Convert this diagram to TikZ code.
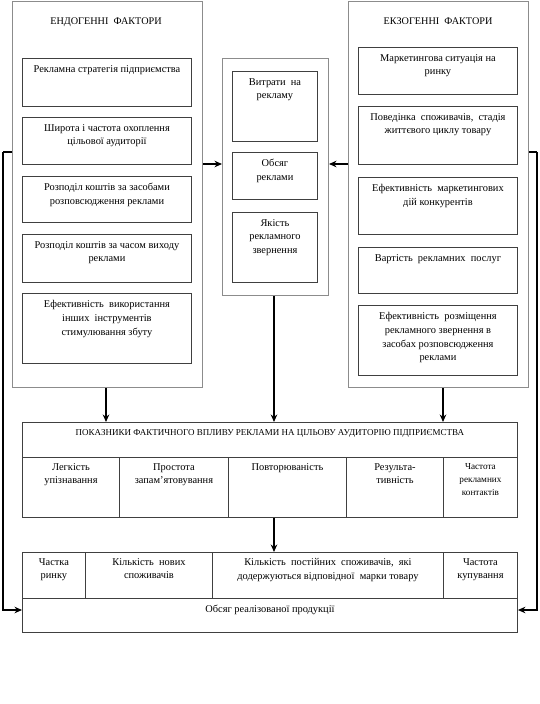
\documentclass[tikz,border=0pt]{standalone}
\usepackage{fontspec}
\setmainfont{Liberation Serif}
\usetikzlibrary{arrows.meta}
\begin{document}
\begin{tikzpicture}[x=1pt,y=-1pt,
  panel/.style={draw=black!45,line width=1pt,anchor=north west,inner sep=0pt},
  box/.style={draw=black!75,line width=0.9pt,anchor=north west,inner sep=0pt},
  cell/.style={draw=black!75,line width=0.9pt,anchor=north west,inner sep=0pt},
  txt/.style={anchor=north,align=center,font=\fontsize{10.4}{13.8}\selectfont,inner sep=0pt},
  ttl/.style={anchor=north,align=center,font=\fontsize{10.2}{12}\selectfont,inner sep=0pt},
  arr/.style={draw=black,line width=1.3pt,-{Stealth[length=7.5pt,width=6.5pt]}},
  ln/.style={draw=black,line width=1.3pt}]
\useasboundingbox (0,0) rectangle (539,704);
% left panel
\node[panel,minimum width=190,minimum height=386] (L) at (12,1) {};
\node[ttl] (Lt) at (106,18) {ЕНДОГЕННІ\ \ ФАКТОРИ};
\node[box,minimum width=169,minimum height=48] (l1) at (22,58) {};
\node[txt] at ([yshift=-7]l1.north) {Рекламна стратегія підприємства};
\node[box,minimum width=169,minimum height=47] (l2) at (22,117) {};
\node[txt] at ([yshift=-7]l2.north) {Широта і частота охоплення\\цільової аудиторії};
\node[box,minimum width=169,minimum height=46] (l3) at (22,176) {};
\node[txt] at ([yshift=-7]l3.north) {Розподіл коштів за засобами\\розповсюдження реклами};
\node[box,minimum width=169,minimum height=48] (l4) at (22,234) {};
\node[txt] at ([yshift=-7]l4.north) {Розподіл коштів за часом виходу\\реклами};
\node[box,minimum width=169,minimum height=70] (l5) at (22,293) {};
\node[txt] at ([yshift=-7]l5.north) {Ефективність\ \ використання\\інших\ \ інструментів\\стимулювання збуту};
% middle panel
\node[panel,minimum width=106,minimum height=237] (M) at (222,58) {};
\node[box,minimum width=85,minimum height=70] (m1) at (232,71) {};
\node[txt] at ([yshift=-7]m1.north) {Витрати\ \ на\\рекламу};
\node[box,minimum width=85,minimum height=47] (m2) at (232,152) {};
\node[txt] at ([yshift=-7]m2.north) {Обсяг\\реклами};
\node[box,minimum width=85,minimum height=70] (m3) at (232,212) {};
\node[txt] at ([yshift=-7]m3.north) {Якість\\рекламного\\звернення};
% right panel
\node[panel,minimum width=180,minimum height=386] (R) at (348,1) {};
\node[ttl] (Rt) at (438,18) {ЕКЗОГЕННІ\ \ ФАКТОРИ};
\node[box,minimum width=159,minimum height=47] (r1) at (358,47) {};
\node[txt] at ([yshift=-7]r1.north) {Маркетингова ситуація на\\ринку};
\node[box,minimum width=159,minimum height=58] (r2) at (358,106) {};
\node[txt] at ([yshift=-7]r2.north) {Поведінка\ \ споживачів,\ \ стадія\\життєвого циклу товару};
\node[box,minimum width=159,minimum height=57] (r3) at (358,177) {};
\node[txt] at ([yshift=-7]r3.north) {Ефективність\ \ маркетингових\\дій конкурентів};
\node[box,minimum width=159,minimum height=46] (r4) at (358,247) {};
\node[txt] at ([yshift=-7]r4.north) {Вартість\ \ рекламних\ \ послуг};
\node[box,minimum width=159,minimum height=70] (r5) at (358,305) {};
\node[txt] at ([yshift=-7]r5.north) {Ефективність\ \ розміщення\\рекламного звернення в\\засобах розповсюдження\\реклами};
% table 1
\node[cell,minimum width=495,minimum height=35] (T) at (22,422) {};
\node[ttl,font=\fontsize{9}{11}\selectfont] at ([yshift=-7]T.north) {ПОКАЗНИКИ ФАКТИЧНОГО ВПЛИВУ РЕКЛАМИ НА ЦІЛЬОВУ АУДИТОРІЮ ПІДПРИЄМСТВА};
\node[cell,minimum width=97,minimum height=60] (t1) at (22,457) {};
\node[cell,minimum width=109,minimum height=60] (t2) at (119,457) {};
\node[cell,minimum width=118,minimum height=60] (t3) at (228,457) {};
\node[cell,minimum width=97,minimum height=60] (t4) at (346,457) {};
\node[cell,minimum width=74,minimum height=60] (t5) at (443,457) {};
\node[txt] at ([yshift=-6]t1.north) {Легкість\\упізнавання};
\node[txt] at ([yshift=-6]t2.north) {Простота\\запам’ятовування};
\node[txt] at ([yshift=-6]t3.north) {Повторюваність};
\node[txt] at ([yshift=-6]t4.north) {Результа-\\тивність};
\node[txt,font=\fontsize{9.2}{13}\selectfont] at ([yshift=-6]t5.north) {Частота\\рекламних\\контактів};
% table 2
\node[cell,minimum width=63,minimum height=46] (b1) at (22,552) {};
\node[cell,minimum width=127,minimum height=46] (b2) at (85,552) {};
\node[cell,minimum width=231,minimum height=46] (b3) at (212,552) {};
\node[cell,minimum width=74,minimum height=46] (b4) at (443,552) {};
\node[cell,minimum width=495,minimum height=34] (B) at (22,598) {};
\node[txt] at ([yshift=-6]b1.north) {Частка\\ринку};
\node[txt] at ([yshift=-6]b2.north) {Кількість\ \ нових\\споживачів};
\node[txt] at ([yshift=-6]b3.north) {Кількість\ \ постійних\ \ споживачів,\ \ які\\додержуються відповідної\ \ марки товару};
\node[txt] at ([yshift=-6]b4.north) {Частота\\купування};
\node[txt] at ([yshift=-7]B.north) {Обсяг реалізованої продукції};
% connectors
\coordinate (cl) at (3,152);
\coordinate (cr) at (537,152);
\coordinate (ya) at (0,164);
\coordinate (yb) at (0,610);
\draw[ln] (L.west |- cl) -- (cl);
\draw[arr] (cl) |- (B.west |- yb);
\draw[ln] (R.east |- cr) -- (cr);
\draw[arr] (cr) |- (B.east |- yb);
\draw[arr] (L.east |- ya) -- (M.west |- ya);
\draw[arr] (R.west |- ya) -- (M.east |- ya);
\draw[arr] (L.south -| 106,0) -- (T.north -| 106,0);
\draw[arr] (M.south -| 274,0) -- (T.north -| 274,0);
\draw[arr] (R.south -| 443,0) -- (T.north -| 443,0);
\draw[arr] (t3.south -| 274,0) -- (b3.north -| 274,0);
\end{tikzpicture}
\end{document}
